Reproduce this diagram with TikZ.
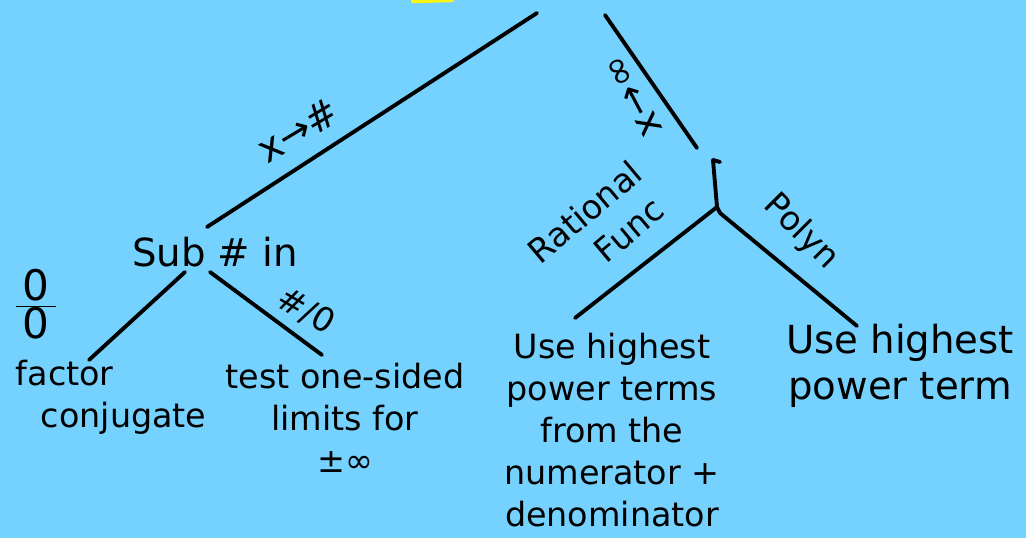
\documentclass[tikz,border=0pt]{standalone}
\usepackage{fontspec}
\setmainfont{DejaVu Sans}
\definecolor{sky}{RGB}{117,209,254}
\definecolor{marker}{RGB}{250,245,20}
\tikzset{
	bigtext/.style={font=\fontsize{22}{26}\selectfont},
	rottext/.style={inner sep=1pt}
}
\begin{document}
\begin{tikzpicture}[x=0.02cm, y=-0.02cm, line width=2.2pt, line join=round, line cap=round, font=\fontsize{19}{24}\selectfont]
	\fill[sky] (0,0) rectangle (1026,538);
	\useasboundingbox (0,0) rectangle (1026,538);
	\draw[marker, line width=2.5pt] (413,1) -- (452,0);
	% ends of the strokes
	\coordinate (root-l) at (537,13);
	\coordinate (sub-top) at (207,227);
	\coordinate (root-r) at (605,15);
	\coordinate (lim-top) at (697,148);
	\coordinate (hook) at (720,162);
	\coordinate (stub-top) at (713,160);
	\coordinate (fork) at (717,207);
	\coordinate (fork-end) at (720,213);
	\coordinate (rat-end) at (575,318);
	\coordinate (pol-end) at (857,326);
	\coordinate (sub-l) at (185,272);
	\coordinate (fac-end) at (89,360);
	\coordinate (sub-r) at (210,272);
	\coordinate (one-end) at (322,355);
	% texts
	\node[bigtext] (sub) at (215,252) {Sub \# in};
	\node[bigtext, rottext, rotate=31] (tonum) at (298,130) {x→\#};
	\node[bigtext, rottext, rotate=118] (toinf) at (634,96) {x→∞};
	\node[font=\fontsize{24}{28}\selectfont] (zero) at (36,304) {$\frac{\mbox{\,0\,}}{\mbox{\,0\,}}$};
	\node[rottext, rotate=-30] (numzero) at (306,311) {\#/0};
	\node[anchor=west, align=left] (factor) at (8,397) {factor\\\hspace{0.5cm}conjugate};
	\node[align=center] (onesided) at (345,418) {test one-sided\\limits for\\±∞};
	\node[rottext, rotate=40, align=center] (ratio) at (598,228) {Rational\\\hspace{0.9cm}Func};
	\node[rottext, rotate=-45] (polyn) at (801,232) {Polyn};
	\node[align=center] (terms) at (612,430) {Use highest\\power terms\\from the\\numerator +\\denominator};
	\node[bigtext, align=center] (term) at (900,366) {Use highest\\power term};
	% tree
	\draw (root-l) -- (sub-top);
	\draw (root-r) -- (lim-top);
	\draw (hook) -- (stub-top) -- (fork) -- (fork-end);
	\draw (fork) -- (rat-end);
	\draw (fork-end) -- (pol-end);
	\draw (sub-l) -- (fac-end);
	\draw (sub-r) -- (one-end);
\end{tikzpicture}
\end{document}
